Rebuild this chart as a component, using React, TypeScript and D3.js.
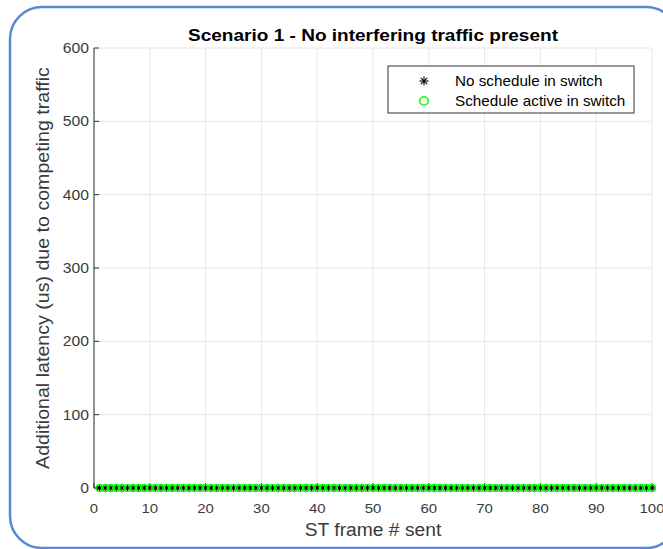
import React from "react";
import * as d3 from "d3";

const frameNumbers: number[] = Array.from({ length: 100 }, (_, i) => i + 1);
const noScheduleLatency: number[] = new Array(100).fill(0);
const scheduleActiveLatency: number[] = new Array(100).fill(0);
const xTicks = [0, 10, 20, 30, 40, 50, 60, 70, 80, 90, 100];
const yTicks = [0, 100, 200, 300, 400, 500, 600];
const seriesNames = ["No schedule in switch", "Schedule active in switch"];

const W = 663, H = 549;
const M = { left: 94, right: 652, top: 48, bottom: 488 };
const FONT = "'Liberation Sans', Arial, sans-serif";
const AX = "#333333";
const TXT = "#3a3a3a";

function T({ x, y, sx = 1.08, anchor = "start", size, weight = "normal", fill = TXT, rotate = 0, children }: any) {
  return (
    <g transform={`translate(${x},${y}) rotate(${rotate}) scale(${sx},1)`}>
      <text x={0} y={0} textAnchor={anchor} fontSize={size} fontWeight={weight} fill={fill}>{children}</text>
    </g>
  );
}

function Star({ cx, cy, r }: { cx: number; cy: number; r: number }) {
  const d = r * 0.7071;
  return (
    <g stroke="#000" strokeWidth={1.1} fill="none">
      <line x1={cx - r} y1={cy} x2={cx + r} y2={cy} />
      <line x1={cx} y1={cy - r} x2={cx} y2={cy + r} />
      <line x1={cx - d} y1={cy - d} x2={cx + d} y2={cy + d} />
      <line x1={cx - d} y1={cy + d} x2={cx + d} y2={cy - d} />
    </g>
  );
}

export default function App() {
  const x = d3.scaleLinear().domain([0, 100]).range([M.left, M.right]);
  const y = d3.scaleLinear().domain([0, 600]).range([M.bottom, M.top]);
  return (
    <svg width={W} height={H} style={{ position: "absolute", left: 0, top: 0, background: "#fff" }} fontFamily={FONT}>
      <rect x={10} y={7} width={668} height={541} rx={32} ry={32} fill="#fff" stroke="#5a8ad0" strokeWidth={2.5} />
      {xTicks.map((t) => (
        <line key={"gx" + t} x1={x(t)} x2={x(t)} y1={M.top} y2={M.bottom} stroke="#e6e6e6" strokeWidth={1} />
      ))}
      {yTicks.map((t) => (
        <line key={"gy" + t} x1={M.left} x2={M.right} y1={y(t)} y2={y(t)} stroke="#e6e6e6" strokeWidth={1} />
      ))}
      <line x1={M.left} x2={M.left} y1={M.top} y2={M.bottom} stroke={AX} strokeWidth={1} />
      <line x1={M.left} x2={M.right} y1={M.bottom} y2={M.bottom} stroke={AX} strokeWidth={1} />
      {yTicks.map((t) => (
        <g key={"ty" + t}>
          <line x1={M.left} x2={M.left + 5} y1={y(t)} y2={y(t)} stroke={AX} />
          <T x={M.left - 5} y={y(t) + 5} anchor="end" size={14} sx={1.12}>{t}</T>
        </g>
      ))}
      {xTicks.map((t) => (
        <g key={"tx" + t}>
          <line x1={x(t)} x2={x(t)} y1={M.bottom} y2={M.bottom - 5} stroke={AX} />
          <T x={x(t)} y={513} anchor="middle" size={13.6} sx={1.1}>{t}</T>
        </g>
      ))}
      {frameNumbers.map((f, i) => (
        <Star key={"s" + f} cx={x(f)} cy={y(noScheduleLatency[i])} r={3.8} />
      ))}
      {frameNumbers.map((f, i) => (
        <circle key={"c" + f} cx={x(f)} cy={y(scheduleActiveLatency[i])} r={3.6} fill="none" stroke="#00ff00" strokeWidth={1.5} />
      ))}
      <T x={(M.left + M.right) / 2} y={41} anchor="middle" size={17} weight="bold" fill="#000" sx={1.12}>
        Scenario 1 - No interfering traffic present
      </T>
      <T x={(M.left + M.right) / 2} y={536} anchor="middle" size={18} sx={1.07}>ST frame # sent</T>
      <T x={49} y={(M.top + M.bottom) / 2} anchor="middle" size={18} rotate={-90} sx={1.09}>
        Additional latency (us) due to competing traffic
      </T>
      <rect x={388} y={66} width={246} height={47} fill="#fff" stroke={AX} strokeWidth={1} />
      <Star cx={424} cy={81} r={4.5} />
      <T x={455} y={86} size={14} fill="#000" sx={1.09}>{seriesNames[0]}</T>
      <circle cx={424} cy={101} r={4.2} fill="none" stroke="#00ff00" strokeWidth={1.5} />
      <T x={455} y={106} size={14} fill="#000" sx={1.09}>{seriesNames[1]}</T>
    </svg>
  );
}
